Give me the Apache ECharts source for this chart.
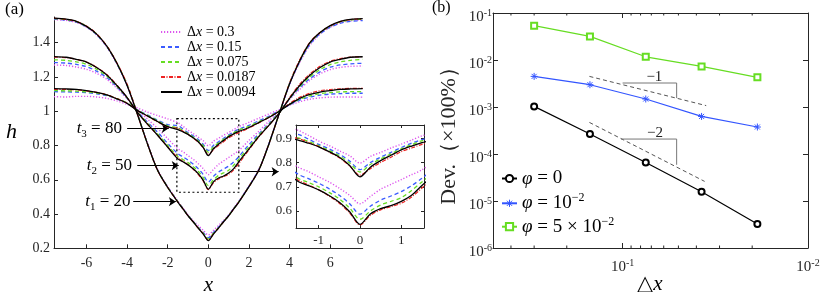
<!DOCTYPE html>
<html><head><meta charset="utf-8">
<script src="https://cdn.jsdelivr.net/npm/echarts@6/dist/echarts.min.js"></script>
<style>html,body{margin:0;padding:0;background:#fff}#c{width:822px;height:292px}</style>
</head><body><div id="c"></div>
<script>
// ---------- (a) data ----------
const xGrid = [-7.6,-7,-6.5,-6,-5.5,-5,-4.5,-4,-3.5,-3,-2.5,-2,-1.5,-1.25,-1,-0.75,-0.5,-0.25,0,0.25,0.5,0.75,1,1.25,1.5,2,2.5,3,3.5,4,4.5,5,5.5,6,6.5,7,7.6];
const dxNames = ['0.3','0.15','0.075','0.0187','0.0094'];
// t1 = 20
const h20_03    = [1.535,1.530,1.518,1.490,1.445,1.375,1.275,1.150,0.990,0.815,0.660,0.560,0.475,0.435,0.395,0.362,0.333,0.305,0.278,0.305,0.333,0.362,0.395,0.435,0.475,0.565,0.665,0.815,0.990,1.155,1.285,1.385,1.450,1.490,1.515,1.528,1.533];
const h20_015   = [1.537,1.532,1.520,1.492,1.447,1.377,1.277,1.152,0.988,0.812,0.657,0.557,0.472,0.432,0.392,0.357,0.323,0.292,0.262,0.292,0.323,0.357,0.392,0.432,0.472,0.562,0.662,0.815,0.990,1.160,1.290,1.390,1.452,1.490,1.514,1.525,1.529];
const h20_0075  = [1.540,1.535,1.523,1.495,1.450,1.380,1.280,1.155,0.986,0.811,0.656,0.556,0.471,0.431,0.391,0.356,0.321,0.288,0.255,0.288,0.321,0.356,0.391,0.431,0.471,0.561,0.661,0.815,0.990,1.163,1.295,1.398,1.458,1.496,1.521,1.533,1.537];
const h20_00187 = [1.542,1.536,1.524,1.497,1.452,1.382,1.282,1.158,0.985,0.810,0.655,0.555,0.470,0.430,0.390,0.354,0.318,0.284,0.247,0.284,0.318,0.354,0.390,0.430,0.470,0.560,0.660,0.815,0.990,1.165,1.300,1.402,1.460,1.498,1.523,1.535,1.540];
const h20_00094 = [1.543,1.537,1.525,1.495,1.450,1.380,1.280,1.150,0.985,0.810,0.655,0.555,0.470,0.430,0.390,0.355,0.318,0.283,0.245,0.283,0.318,0.355,0.390,0.430,0.470,0.560,0.660,0.815,0.990,1.160,1.295,1.400,1.460,1.500,1.524,1.536,1.540];
// t2 = 50
const h50_03    = [1.270,1.267,1.258,1.245,1.221,1.186,1.134,1.073,1.010,0.955,0.900,0.840,0.781,0.763,0.741,0.720,0.694,0.665,0.630,0.660,0.690,0.710,0.730,0.750,0.770,0.830,0.885,0.945,1.005,1.068,1.128,1.180,1.218,1.243,1.256,1.262,1.264];
const h50_015   = [1.284,1.281,1.273,1.260,1.234,1.197,1.141,1.076,1.000,0.937,0.878,0.812,0.752,0.734,0.715,0.692,0.665,0.630,0.587,0.620,0.645,0.662,0.680,0.705,0.735,0.805,0.870,0.930,0.997,1.072,1.138,1.190,1.230,1.257,1.270,1.277,1.280];
const h50_0075  = [1.300,1.297,1.288,1.274,1.245,1.205,1.146,1.078,0.997,0.930,0.868,0.800,0.735,0.718,0.700,0.677,0.650,0.612,0.566,0.600,0.625,0.640,0.655,0.685,0.720,0.792,0.862,0.925,0.993,1.075,1.145,1.200,1.243,1.272,1.288,1.297,1.303];
const h50_00187 = [1.316,1.313,1.302,1.287,1.256,1.214,1.152,1.080,0.995,0.925,0.860,0.792,0.728,0.708,0.688,0.662,0.632,0.592,0.543,0.582,0.605,0.618,0.632,0.658,0.695,0.775,0.852,0.920,0.992,1.080,1.158,1.218,1.262,1.292,1.307,1.316,1.318];
const h50_00094 = [1.319,1.315,1.303,1.287,1.255,1.212,1.150,1.080,0.995,0.925,0.860,0.790,0.722,0.705,0.687,0.664,0.636,0.597,0.545,0.588,0.610,0.622,0.640,0.665,0.705,0.780,0.855,0.920,0.990,1.075,1.150,1.210,1.255,1.287,1.303,1.315,1.318];
// t3 = 80
const h80_03    = [1.085,1.083,1.087,1.087,1.083,1.075,1.060,1.040,1.020,0.995,0.975,0.955,0.933,0.912,0.889,0.870,0.849,0.828,0.798,0.825,0.842,0.860,0.876,0.893,0.910,0.935,0.960,0.985,1.010,1.035,1.055,1.070,1.078,1.082,1.083,1.083,1.082];
const h80_015   = [1.114,1.113,1.111,1.108,1.102,1.091,1.072,1.047,1.008,0.979,0.948,0.922,0.916,0.897,0.875,0.857,0.835,0.806,0.771,0.800,0.822,0.842,0.862,0.880,0.895,0.918,0.945,0.972,1.005,1.038,1.065,1.083,1.094,1.100,1.103,1.105,1.105];
const h80_0075  = [1.120,1.119,1.117,1.113,1.106,1.094,1.074,1.048,1.007,0.976,0.944,0.915,0.902,0.887,0.870,0.850,0.828,0.798,0.761,0.792,0.815,0.836,0.857,0.874,0.890,0.912,0.940,0.968,1.003,1.040,1.070,1.090,1.102,1.109,1.113,1.114,1.114];
const h80_00187 = [1.128,1.127,1.125,1.119,1.110,1.096,1.074,1.047,1.005,0.972,0.938,0.908,0.900,0.883,0.866,0.843,0.820,0.786,0.748,0.775,0.800,0.822,0.845,0.860,0.875,0.902,0.933,0.965,1.002,1.045,1.082,1.105,1.120,1.127,1.131,1.133,1.133];
const h80_00094 = [1.132,1.130,1.127,1.120,1.110,1.095,1.072,1.046,1.005,0.973,0.940,0.910,0.893,0.880,0.865,0.845,0.822,0.788,0.741,0.781,0.808,0.830,0.852,0.868,0.882,0.905,0.935,0.965,1.000,1.040,1.075,1.098,1.112,1.120,1.127,1.130,1.132];

const xTicksA = [-6,-4,-2,0,2,4,6];
const yTicksA = [0.2,0.4,0.6,0.8,1,1.2,1.4];
const xTicksInset = [-1,0,1];
const yTicksInset = [0.6,0.7,0.8,0.9];

// ---------- (b) data ----------
const dxB = [0.3,0.15,0.075,0.0375,0.01875];
const dev0 = [1.03e-3,2.67e-4,6.6e-5,1.58e-5,3.24e-6];
const dev1 = [4.48e-3,2.98e-3,1.48e-3,6.3e-4,3.75e-4];
const dev5 = [5.37e-2,3.18e-2,1.17e-2,7.3e-3,4.27e-3];
const guide1Dash = [[0.151,4.48e-3],[0.0354,1.07e-3]];
const guide1Tri  = [[0.1,3.24e-3],[0.0511,3.24e-3],[0.0511,1.55e-3]];
const guide2Dash = [[0.151,4.7e-4],[0.0361,2.61e-5]];
const guide2Tri  = [[0.102,2.08e-4],[0.0511,2.08e-4],[0.0511,5.9e-5]];
const minorXB = [0.4,0.3,0.2,0.09,0.08,0.07,0.06,0.05,0.04,0.03,0.02];

// ---------- build ----------
const chart = echarts.init(document.getElementById('c'), null, {renderer:'canvas'});
const FF = "'Liberation Serif','Times New Roman',serif";
const AX = '#262626';
const curves = [
  [h20_03,h20_015,h20_0075,h20_00187,h20_00094],
  [h50_03,h50_015,h50_0075,h50_00187,h50_00094],
  [h80_03,h80_015,h80_0075,h80_00187,h80_00094]
];
const styles = [
  {color:'#dd55ee', type:[1.2,1.8], width:1.4},
  {color:'#3b5bff', type:[4,3], width:1.3},
  {color:'#66dd22', type:[4,3], width:1.3},
  {color:'#ee2222', type:[4,1.5,1,1.5], width:1.2},
  {color:'#000000', type:'solid', width:1.3}
];
const series = [];
const toPts = arr => xGrid.map((x,i)=>[x,arr[i]]);
for (let g = 0; g < 2; g++) {
  curves.forEach((set) => {
    set.forEach((arr,k) => {
      series.push({
        type:'line', name:dxNames[k], xAxisIndex: g===0?0:1, yAxisIndex: g===0?0:1,
        data: toPts(arr), symbol:'none', smooth:0.3, clip:true,
        lineStyle:{color:styles[k].color, type:styles[k].type, width:styles[k].width},
        itemStyle:{color:styles[k].color}, silent:true, z: 2+k
      });
    });
  });
}
// annotations on panel (a)
const arrowStyle = {color:'#000', width:1, type:'solid'};
const tLab = (sub, val) => '{i|t}{s|' + sub + '}{u| = ' + val + '}';
series[14].markLine = {
  silent:true, symbol:['none','arrow'], symbolSize:7, label:{show:false},
  lineStyle:arrowStyle,
  data:[
    [{coord:[-4.0,0.9]},{coord:[-1.95,0.9]}],
    [{coord:[-3.5,0.683]},{coord:[-1.46,0.683]}],
    [{coord:[-3.7,0.472]},{coord:[-1.6,0.472]}],
    [{coord:[1.61,0.647]},{coord:[3.46,0.647]}]
  ]
};
series[14].markArea = {
  silent:true,
  itemStyle:{color:'rgba(0,0,0,0)', borderColor:'#000', borderWidth:1.2, borderType:[2,2.5]},
  data:[[{coord:[-1.55,0.957]},{coord:[1.5,0.527]}]]
};
const labRich = {
  i:{fontFamily:FF, fontStyle:'italic', fontSize:17, color:'#000', lineHeight:22},
  s:{fontFamily:FF, fontSize:11, color:'#000', lineHeight:13, verticalAlign:'bottom'},
  u:{fontFamily:FF, fontSize:17, color:'#000', lineHeight:22}
};
series[14].markPoint = {
  silent:true, symbol:'rect', symbolSize:1, itemStyle:{color:'rgba(0,0,0,0)'},
  label:{show:true, position:'inside', formatter:p=>p.name, rich:labRich},
  data:[
    {name:tLab('3','80'), coord:[-5.37,0.9]},
    {name:tLab('2','50'), coord:[-4.87,0.683]},
    {name:tLab('1','20'), coord:[-4.95,0.472]}
  ]
};
// panel (b)
const bStyles = [
  {name:'p0', data:dev0, color:'#000000', symbol:'emptyCircle', size:6},
  {name:'p1', data:dev1, color:'#3355ff', symbol:'path://M0,-5L0,5M-5,0L5,0M-3.6,-3.6L3.6,3.6M-3.6,3.6L3.6,-3.6', size:7},
  {name:'p5', data:dev5, color:'#66dd22', symbol:'emptyRect', size:6}
];
bStyles.forEach(b => {
  series.push({
    type:'line', name:b.name, xAxisIndex:3, yAxisIndex:3,
    data: dxB.map((x,i)=>[x,b.data[i]]),
    symbol:b.symbol, symbolSize:b.size, showSymbol:true,
    lineStyle:{color:b.color, width:1.2}, itemStyle:{color:b.color, borderColor:b.color, borderWidth:1},
    silent:true, z:5
  });
});
const guideLine = (data, dashed) => ({
  type:'line', xAxisIndex:3, yAxisIndex:3, data, symbol:'none', silent:true, z:3,
  lineStyle: dashed ? {color:'#555', width:1, type:[4,3]} : {color:'#777', width:1}
});
series.push(guideLine(guide1Dash,true), guideLine(guide2Dash,true));
const tri1 = guideLine(guide1Tri,false), tri2 = guideLine(guide2Tri,false);
const slopeLab = {show:true, position:'inside', formatter:p=>p.name, fontFamily:FF, fontSize:15, color:'#222'};
tri1.markPoint = {silent:true, symbol:'rect', symbolSize:1, itemStyle:{color:'rgba(0,0,0,0)'}, label:slopeLab,
  data:[{name:'−1', coord:[0.0674,4.4e-3]}]};
tri2.markPoint = {silent:true, symbol:'rect', symbolSize:1, itemStyle:{color:'rgba(0,0,0,0)'}, label:slopeLab,
  data:[{name:'−2', coord:[0.0668,2.84e-4]}]};
series.push(tri1, tri2);
// minor ticks of the log x axis of (b)
series.push({
  type:'custom', xAxisIndex:3, yAxisIndex:3, silent:true, clip:false, z:6,
  data: minorXB.map(v=>[v,1e-3]),
  renderItem:(params, api) => {
    const v = api.value(0);
    const pb = api.coord([v,1e-6]), pt = api.coord([v,1e-1]);
    return {type:'group', children:[
      {type:'line', shape:{x1:pb[0],y1:pb[1],x2:pb[0],y2:pb[1]-2.5}, style:{stroke:AX, lineWidth:1}},
      {type:'line', shape:{x1:pt[0],y1:pt[1],x2:pt[0],y2:pt[1]+2.5}, style:{stroke:AX, lineWidth:1}}
    ]};
  }
});

const pow10Fmt = v => {
  const l = Math.log10(v), e = Math.round(l);
  if (Math.abs(l-e) > 1e-6) return '';
  return '{b|10}{s|' + e + '}';
};
const powRich = {
  b:{fontFamily:FF, fontSize:15, color:AX, lineHeight:14, verticalAlign:'bottom'},
  s:{fontFamily:FF, fontSize:10, color:AX, lineHeight:24}
};
const axLine = {show:true, onZero:false, lineStyle:{color:AX, width:1}};
const noLab = {show:false};

const legB = (name, text, top) => ({
  data:[name], orient:'vertical', left:501, top, padding:0, itemGap:0, itemWidth:15, itemHeight:9,
  selectedMode:false, itemStyle:{borderWidth:1},
  formatter: () => text,
  textStyle:{rich:{
    u:{fontFamily:FF, fontSize:19, color:'#000', lineHeight:22},
    i:{fontFamily:FF, fontStyle:'italic', fontSize:19, color:'#000', lineHeight:22},
    s:{fontFamily:FF, fontSize:12, color:'#000', lineHeight:13, verticalAlign:'top'}}}
});

const option = {
  animation:false,
  backgroundColor:'#fff',
  grid:[
    {left:54, top:17, width:308.7, height:231.3, containLabel:false, outerBoundsMode:'none'},
    {left:296, top:125, width:128, height:103, containLabel:false, outerBoundsMode:'none'},
    {left:493, top:13, width:315, height:235, containLabel:false, outerBoundsMode:'none'}
  ],
  xAxis:[
    {gridIndex:0, type:'value', min:-7.6, max:7.6, axisLine:axLine,
      axisTick:{inside:true, length:4, customValues:xTicksA, lineStyle:{color:AX}},
      axisLabel:{customValues:xTicksA, fontFamily:FF, fontSize:14, color:AX, margin:8},
      splitLine:{show:false},
      name:'x', nameLocation:'middle', nameGap:22,
      nameTextStyle:{fontFamily:FF, fontStyle:'italic', fontSize:21, color:'#000'}},
    {gridIndex:1, type:'value', min:-1.55, max:1.55, axisLine:axLine,
      axisTick:{inside:true, length:3, customValues:xTicksInset, lineStyle:{color:AX}},
      axisLabel:{customValues:xTicksInset, fontFamily:FF, fontSize:13, color:AX, margin:6},
      splitLine:{show:false}},
    {gridIndex:1, type:'value', position:'top', min:-1.55, max:1.55, axisLine:axLine,
      axisTick:{inside:true, length:3, customValues:xTicksInset, lineStyle:{color:AX}},
      axisLabel:noLab, splitLine:{show:false}},
    {gridIndex:2, type:'log', logBase:10, min:0.01, max:0.5, inverse:true, position:'bottom', axisLine:axLine,
      axisTick:{inside:true, length:5, lineStyle:{color:AX}},
      axisLabel:{formatter:pow10Fmt, rich:powRich, margin:3},
      splitLine:{show:false}, minorTick:{show:false}},
    {gridIndex:2, type:'log', logBase:10, min:0.01, max:0.5, inverse:true, position:'top', axisLine:axLine,
      axisTick:{inside:true, length:5, lineStyle:{color:AX}},
      axisLabel:noLab, splitLine:{show:false}}
  ],
  yAxis:[
    {gridIndex:0, type:'value', min:0.2, max:1.55, axisLine:axLine,
      axisTick:{inside:true, length:4, customValues:yTicksA, lineStyle:{color:AX}},
      axisLabel:{customValues:yTicksA, fontFamily:FF, fontSize:14, color:AX, margin:4},
      splitLine:{show:false},
      name:'h', nameLocation:'middle', nameRotate:0, nameGap:37,
      nameTextStyle:{fontFamily:FF, fontStyle:'italic', fontSize:22, color:'#000'}},
    {gridIndex:1, type:'value', min:0.53, max:0.955, axisLine:axLine,
      axisTick:{inside:true, length:3, customValues:yTicksInset, lineStyle:{color:AX}},
      axisLabel:{customValues:yTicksInset, fontFamily:FF, fontSize:13, color:AX, margin:4},
      splitLine:{show:false}},
    {gridIndex:1, type:'value', position:'right', min:0.53, max:0.955, axisLine:axLine,
      axisTick:{inside:true, length:3, customValues:yTicksInset, lineStyle:{color:AX}},
      axisLabel:noLab, splitLine:{show:false}},
    {gridIndex:2, type:'log', logBase:10, min:1e-6, max:1e-1, position:'left', axisLine:axLine,
      axisTick:{inside:true, length:5, lineStyle:{color:AX}},
      axisLabel:{formatter:pow10Fmt, rich:powRich, margin:1},
      splitLine:{show:false},
      name:'Dev.（×100%）', nameLocation:'middle', nameGap:33, nameRotate:90,
      nameTextStyle:{fontFamily:FF, fontSize:22, color:'#262626'}},
    {gridIndex:2, type:'log', logBase:10, min:1e-6, max:1e-1, position:'right', axisLine:axLine,
      axisTick:{inside:true, length:5, lineStyle:{color:AX}},
      axisLabel:noLab, splitLine:{show:false}}
  ],
  legend:[
    {data:dxNames, orient:'vertical', left:160, top:25, padding:0, itemGap:1, itemWidth:21, itemHeight:10,
      selectedMode:false, itemStyle:{opacity:0},
      formatter: n => '{u|Δ}{i|x}{u| = ' + n + '}',
      textStyle:{rich:{
        u:{fontFamily:FF, fontSize:14, color:'#000', lineHeight:16},
        i:{fontFamily:FF, fontStyle:'italic', fontSize:14, color:'#000', lineHeight:16}}}},
    legB('p0', '{i|φ}{u| = 0}', 169),
    legB('p1', '{i|φ}{u| = 10}{s|−2}', 192.3),
    legB('p5', '{i|φ}{u| = 5 × 10}{s|−2}', 215.7)
  ],
  graphic:[
    {type:'text', left:5, top:1, style:{text:'(a)', font:"17px 'Liberation Serif', serif", fill:'#000'}},
    {type:'text', left:432, top:0, style:{text:'(b)', font:"16px 'Liberation Serif', serif", fill:'#000'}},
    {type:'text', x:650, y:274, style:{text:'{u|△}{i|x}', align:'center', verticalAlign:'top',
      rich:{u:{fontFamily:FF, fontSize:21, fill:'#000'}, i:{fontFamily:FF, fontStyle:'italic', fontSize:21, fill:'#000'}}}}
  ],
  series
};
chart.setOption(option);
</script>
</body></html>
